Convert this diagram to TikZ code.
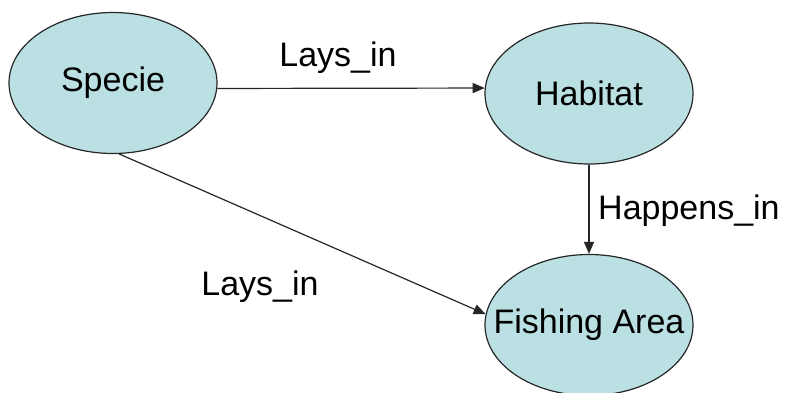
\documentclass[tikz,border=0pt]{standalone}
\usepackage{fontspec}
\setmainfont{Liberation Sans}
\usetikzlibrary{shapes.geometric,arrows.meta}
\definecolor{nodefill}{RGB}{186,224,227}
\begin{document}
\begin{tikzpicture}[x=1pt,y=-1pt,
  txt/.style={font=\fontsize{34}{40}\selectfont},
  entity/.style={ellipse,draw=black!85,line width=1.2pt,fill=nodefill,minimum width=208pt,minimum height=141pt,inner sep=0pt,label={[txt]center:#1}},
  arr/.style={line width=1.2pt,draw=black!85,-{Triangle[length=12pt,width=10pt]}},
  lbl/.style={txt,inner sep=0pt}]
\useasboundingbox (0,0) rectangle (787,392);
\clip (0,0) rectangle (787,392);
\node[entity=Specie] (specie) at (113,83) {};
\node[entity=Habitat] (habitat) at (589,93.5) {};
\node[entity=Fishing Area] (fishing) at (589,325) {};
\draw[arr] (specie.-3.3) -- (habitat.177.5);
\draw[arr] (habitat.south) -- (fishing.north);
\draw[arr] (specie.-85) -- (fishing.174);
\node[lbl] (l1) at (338,58) {Lays\_in};
\node[lbl,anchor=west] (l2) at (598,211) {Happens\_in};
\node[lbl] (l3) at (260,287) {Lays\_in};
\end{tikzpicture}
\end{document}
